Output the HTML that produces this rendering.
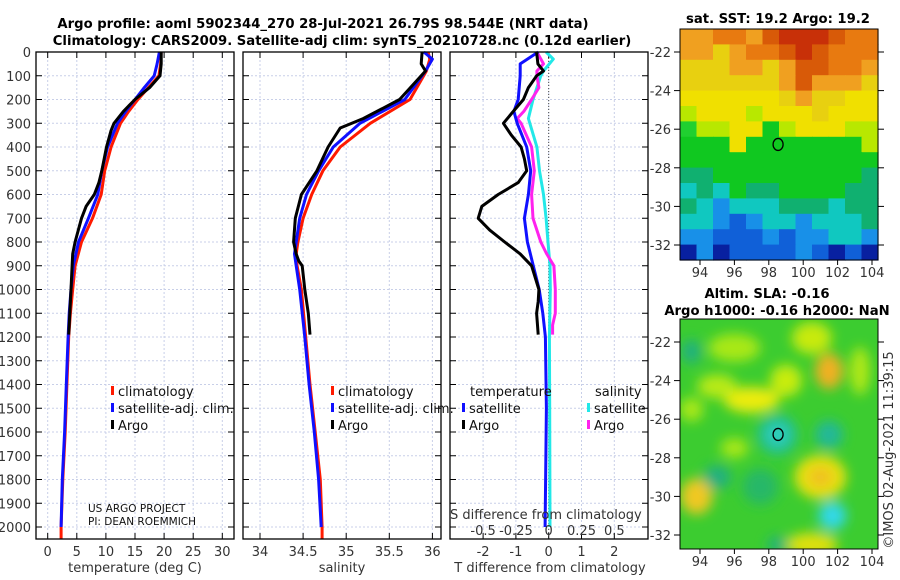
<!DOCTYPE html>
<html><head><meta charset="utf-8">
<style>
html,body{margin:0;padding:0;background:#fff;}
svg{display:block;font-family:"DejaVu Sans","Liberation Sans",sans-serif;}
.tk{font-size:13px;fill:#333;}
.tt{font-size:13.2px;font-weight:bold;fill:#000;}
.lg{font-size:13px;fill:#111;}
</style></head>
<body>
<svg id="fig" width="900" height="580" viewBox="0 0 900 580">
<defs>
<filter id="blur2" x="-10%" y="-10%" width="120%" height="120%"><feGaussianBlur stdDeviation="6"/></filter>
<clipPath id="cm2"><rect x="680" y="319" width="198" height="230"/></clipPath>
</defs>
<g id="g"></g>
</svg>
<script>
// ---- data ----
const tDepth = [0,50,100,150,200,250,300,400,500,600,700,800,900,1000,1100,1200,1400,1600,1800,2000,2050];
const tClim  = [19.5,19.4,19.1,17.3,15.5,13.9,12.5,10.9,9.8,9.2,7.7,5.8,4.7,4.3,3.9,3.6,3.3,3.0,2.6,2.3,2.3];
const tSat   = [19.2,18.8,18.3,16.6,15.0,13.4,12.0,10.3,9.3,8.6,7.0,5.3,4.4,4.0,3.7,3.5,3.2,2.9,2.5,2.3];
const argoDepth = [0,50,100,150,200,250,300,330,400,500,550,600,650,700,800,850,900,1000,1100,1190];
const tArgo  = [19.5,19.5,19.3,17.5,15.0,13.0,11.4,10.9,10.1,9.3,8.8,8.0,6.6,5.8,4.7,4.3,4.2,4.0,3.8,3.6];
const sDepth = [0,30,80,200,300,400,500,600,700,800,850,900,1000,1200,1400,1600,1800,2000,2050];
const sClim  = [35.95,35.97,35.93,35.74,35.28,34.93,34.73,34.60,34.50,34.44,34.42,34.43,34.48,34.53,34.58,34.64,34.70,34.72,34.72];
const sSat   = [35.90,36.00,35.92,35.68,35.16,34.85,34.68,34.54,34.46,34.42,34.40,34.42,34.46,34.52,34.57,34.63,34.68,34.71];
const sArgoDepth = [0,50,80,120,200,280,320,400,500,600,700,800,850,880,900,1000,1100,1190];
const sArgo  = [35.88,35.87,35.92,35.82,35.62,35.20,34.93,34.79,34.66,34.48,34.41,34.39,34.42,34.45,34.49,34.52,34.56,34.58];
const dDepth = [0,50,100,200,250,300,400,500,600,700,800,900,1000,1100,1200,1500,2000];
const dTSat  = [-0.32,-0.87,-0.87,-0.93,-1.06,-0.96,-0.67,-0.55,-0.62,-0.74,-0.65,-0.47,-0.29,-0.18,-0.10,-0.07,-0.11];
const dArgoDepth = [0,50,80,100,150,200,250,300,350,400,450,500,550,600,650,700,750,800,850,900,1000,1050,1100,1150,1190];
const dTArgo = [-0.37,-0.33,-0.16,-0.37,-0.62,-0.77,-1.08,-1.38,-1.14,-0.84,-0.74,-0.67,-0.93,-1.54,-2.04,-2.15,-1.80,-1.34,-0.87,-0.52,-0.30,-0.32,-0.37,-0.34,-0.32];
const dSDepth = [0,30,80,100,200,280,400,500,600,700,800,900,1000,1200,1500,2000];
const dSSat  = [-0.02,0.035,-0.04,-0.06,-0.12,-0.155,-0.09,-0.07,-0.04,-0.02,-0.005,0.01,0.012,0.005,0.008,0.01];
const dSArgo = [-0.09,-0.04,-0.09,-0.09,-0.075,-0.13,-0.19,-0.24,-0.21,-0.13,-0.11,-0.13,-0.12,-0.06,-0.015,0.04,0.05,0.05,0.03,0.03];
const dSArgoDepth = [0,50,80,100,150,200,250,280,300,400,500,600,700,800,850,900,1000,1100,1150,1190];
const depthTicks = [0,100,200,300,400,500,600,700,800,900,1000,1100,1200,1300,1400,1500,1600,1700,1800,1900,2000];
const tTicks = [0,5,10,15,20,25,30];
const sTicks = [34,34.5,35,35.5,36];
const dTTicks = [-2,-1,0,1,2];
const dSTicks = [-0.5,-0.25,0,0.25,0.5];
const latTicks = [-22,-24,-26,-28,-30,-32];
const lonTicks = [94,96,98,100,102,104];

// ---- scales ----
const yD = d => 52 + 0.2375*d;
const xT = t => 47.7 + 5.82*t;
const xS = s => 260 + 86.2*(s-34);
const xDT = v => 548.7 + 32.8*v;
const xDS = v => 548.7 + 131.2*v;
const NS="http://www.w3.org/2000/svg";
const g=document.getElementById('g');
function el(tag,attrs,parent){const e=document.createElementNS(NS,tag);for(const k in attrs)e.setAttribute(k,attrs[k]);(parent||g).appendChild(e);return e;}
function txt(x,y,s,cls,anchor,extra){const e=el('text',Object.assign({x:x,y:y,class:cls,'text-anchor':anchor||'start'},extra||{}));e.textContent=s;return e;}

const panels=[{x0:36,x1:234,name:'temperature-panel'},{x0:243,x1:441,name:'salinity-panel'},{x0:450,x1:648,name:'difference-panel'}];
const PY0=52, PY1=539;

function grid(p, xs){
  for(const d of depthTicks){const y=yD(d);
    const l=el('line',{x1:p.x0,x2:p.x1,y1:y,y2:y,stroke:'#c8cfe8','stroke-width':1,'stroke-dasharray':'2,2'});
    
    
    el('line',{x1:p.x0,x2:p.x0+6,y1:y,y2:y,stroke:'#000'});
    el('line',{x1:p.x1-6,x2:p.x1,y1:y,y2:y,stroke:'#000'});
  }
  for(const x of xs){
    const l=el('line',{x1:x,x2:x,y1:PY0,y2:PY1,stroke:'#c8cfe8','stroke-width':1,'stroke-dasharray':'2,2'});
    
    
    el('line',{x1:x,x2:x,y1:PY1,y2:PY1-6,stroke:'#000'});
    el('line',{x1:x,x2:x,y1:PY0,y2:PY0+6,stroke:'#000'});
  }
}
grid(panels[0], tTicks.map(xT));
grid(panels[1], sTicks.map(xS));
grid(panels[2], dTTicks.map(xDT));

function line(xa,ya,xf,color,name,w){
  const pts=xa.map((v,i)=>xf(v).toFixed(1)+','+yD(ya[i]).toFixed(1)).join(' ');
  const p=el('polyline',{points:pts,fill:'none',stroke:color,'stroke-width':w||3,'stroke-linejoin':'round'});
  
  
}
line(tClim,tDepth,xT,'#ff1a00','temp-climatology-line');
line(tSat,tDepth.slice(0,tSat.length),xT,'#1010ff','temp-satellite-line');
line(tArgo,argoDepth,xT,'#000','temp-argo-line');
line(sClim,sDepth,xS,'#ff1a00','salinity-climatology-line');
line(sSat,sDepth.slice(0,sSat.length),xS,'#1010ff','salinity-satellite-line');
line(sArgo,sArgoDepth,xS,'#000','salinity-argo-line');
const zl=el('line',{x1:xDT(0),x2:xDT(0),y1:PY0,y2:PY1,stroke:'#444','stroke-dasharray':'1,2'});


line(dSSat,dSDepth,xDS,'#22e8e8','salinity-satellite-diff-line');
line(dSArgo,dSArgoDepth,xDS,'#ff22ee','salinity-argo-diff-line');
line(dTSat,dDepth,xDT,'#1010ff','temp-satellite-diff-line');
line(dTArgo,dArgoDepth,xDT,'#000','temp-argo-diff-line');

for(const p of panels){
  const r=el('rect',{x:p.x0,y:PY0,width:p.x1-p.x0,height:PY1-PY0,fill:'none',stroke:'#000','stroke-width':1.3});
  
  
}
for(const d of depthTicks){const t=txt(31,yD(d)+5,String(d),'tk','end');
  
  }
for(const v of tTicks){const t=txt(xT(v),556,String(v),'tk','middle');
  
  }
for(const v of sTicks){const t=txt(xS(v),556,String(v),'tk','middle');
  
  }
for(const v of dTTicks){const t=txt(xDT(v),556,String(v),'tk','middle');
  
  }
for(const v of dSTicks){const t=txt(xDS(v),535,String(v),'tk','middle');
  
  }

function leg(x,y,color,label,name){
  const r=el('rect',{x:x,y:y-10,width:3,height:9,fill:color});
  
  
  const t=txt(x+7,y,label,'lg');
  
  
}
leg(111,396,'#ff1a00','climatology','legend-climatology');
leg(111,413,'#1010ff','satellite-adj. clim.','legend-satellite');
leg(111,430,'#000','Argo','legend-argo');
leg(331,396,'#ff1a00','climatology','legend-s-climatology');
leg(331,413,'#1010ff','satellite-adj. clim.','legend-s-satellite');
leg(331,430,'#000','Argo','legend-s-argo');
txt(470,396,'temperature','lg');
leg(462,413,'#1010ff','satellite','legend-t-satellite');
leg(462,430,'#000','Argo','legend-t-argo');
txt(595,396,'salinity','lg');
leg(587,413,'#22e8e8','satellite','legend-sd-satellite');
leg(587,430,'#ff22ee','Argo','legend-sd-argo');

txt(88,512,'US ARGO PROJECT','lg',null,{style:'font-size:10.5px'});
txt(88,525,'PI: DEAN ROEMMICH','lg',null,{style:'font-size:10.5px'});
txt(450,519,'S difference from climatology','tk',null,{style:'font-size:13px'});
txt(135,572,'temperature (deg C)','tk','middle',{style:'font-size:13px'});
txt(342,572,'salinity','tk','middle',{style:'font-size:13px'});
txt(550,572,'T difference from climatology','tk','middle',{style:'font-size:13px'});
txt(323,28,'Argo profile: aoml 5902344_270 28-Jul-2021 26.79S 98.544E (NRT data)','tt','middle');
txt(342,45,'Climatology: CARS2009. Satellite-adj clim: synTS_20210728.nc (0.12d earlier)','tt','middle');

// ---- maps ----
const sstColors = {O:'#e87a10',o:'#f0a020',R:'#c83008',D:'#d85a08',Y:'#f0e000',y:'#e8d010',L:'#b8e800',G:'#10c820',g:'#20d030',T:'#10b070',C:'#10c8c0',B:'#1890e8',b:'#1060d8',N:'#0820a0'};
const sstRows = [
 'ooOOoDRRRDOO',
 'ooyoOODRDOOO',
 'yyyooyoDDOOo',
 'yyyyyyoDoooy',
 'YYYYYYyoyyYY',
 'LYYYLYYYyYYY',
 'gLLYYGLYYYLL',
 'GGGYGGGGGGGL',
 'GGGGGGGGGGGG',
 'TTGGGGGGGGGT',
 'CTCGTTGGGGTT',
 'TCBCCCTTTCTT',
 'CCBbBCCBCCCT',
 'BBbbbBbBBCCB',
 'NBNbbbbBbNbN'
];
const lat2y1 = la => 52 + (-22-la)*19.3;
const lon2x = lo => 700 + (lo-94)*17.2;
const mg=el('g',{});


const cw=198/12, ch=231/15;
sstRows.forEach((row,r)=>{[...row].forEach((c,i)=>{
  el('rect',{x:(680+i*cw).toFixed(1),y:(29+r*ch).toFixed(1),width:(cw+0.6).toFixed(1),height:(ch+0.6).toFixed(1),fill:sstColors[c]},mg);
});});
el('rect',{x:680,y:29,width:198,height:231,fill:'none',stroke:'#000'});
const c1=el('ellipse',{cx:lon2x(98.54),cy:lat2y1(-26.79),rx:5,ry:6,fill:'none',stroke:'#000','stroke-width':1.3});


txt(778,23,'sat. SST: 19.2 Argo: 19.2','tt','middle');

const lat2y2 = la => 342 + (-22-la)*19.3;
const m2=el('g',{'clip-path':'url(#cm2)'});


el('rect',{x:680,y:319,width:198,height:230,fill:'#3ccc30'},m2);
const bg=el('g',{filter:'url(#blur2)'},m2);
const blobs=[
 [96,-22.3,26,14,'#a8e818'],[100.5,-21.8,20,16,'#c8ea10'],[101.5,-23.5,14,18,'#f0b020'],[97,-25,28,13,'#ecec10'],
 [95,-24.3,20,12,'#b8ea18'],[99,-24,16,16,'#c8ec10'],[103.3,-23.5,10,24,'#b0e818'],[93.5,-25.5,12,12,'#a8e818'],
 [98.5,-26.8,20,20,'#20c098'],[98.5,-26.8,10,10,'#30d0c0'],[101.5,-26.8,14,14,'#20b898'],[101,-29,26,22,'#e8e010'],[101,-29,12,10,'#f0c020'],
 [93.8,-30,16,18,'#f0c820'],[95,-29,14,12,'#20b080'],[101.7,-31,14,14,'#30d8e8'],[100.5,-32.5,26,12,'#e0e010'],[98.5,-32.5,10,8,'#20b080'],
 [96,-27.5,14,10,'#a8e818'],[93.5,-22.5,10,12,'#20b080'],[97.5,-29.5,18,18,'#28b868']
];
for(const b of blobs){el('ellipse',{cx:lon2x(b[0]),cy:lat2y2(b[1]),rx:b[2],ry:b[3],fill:b[4]},bg);}
el('rect',{x:680,y:319,width:198,height:230,fill:'none',stroke:'#000'});
const c2=el('ellipse',{cx:lon2x(98.54),cy:lat2y2(-26.79),rx:5,ry:6,fill:'none',stroke:'#000','stroke-width':1.3});


txt(767,298,'Altim. SLA: -0.16','tt','middle');
txt(777,315,'Argo h1000: -0.16 h2000: NaN','tt','middle');

for(const la of latTicks){
  for(const fy of [lat2y1,lat2y2]){
    const y=fy(la);
    el('line',{x1:674,x2:680,y1:y,y2:y,stroke:'#000'});
    el('line',{x1:878,x2:884,y1:y,y2:y,stroke:'#000'});
    const t=txt(671,y+5,String(la),'tk','end');
    
    
  }
}
for(const lo of lonTicks){
  for(const yy of [[260,277],[549,566]]){
    const x=lon2x(lo);
    el('line',{x1:x,x2:x,y1:yy[0],y2:yy[0]+5,stroke:'#000'});
    const t=txt(x,yy[1],String(lo),'tk','middle');
    
    
  }
}
const cp=txt(0,0,'\u00a9IMOS 02-Aug-2021 11:39:15','tk','middle',{transform:'translate(893,450) rotate(-90)'});


</script>
</body></html>
